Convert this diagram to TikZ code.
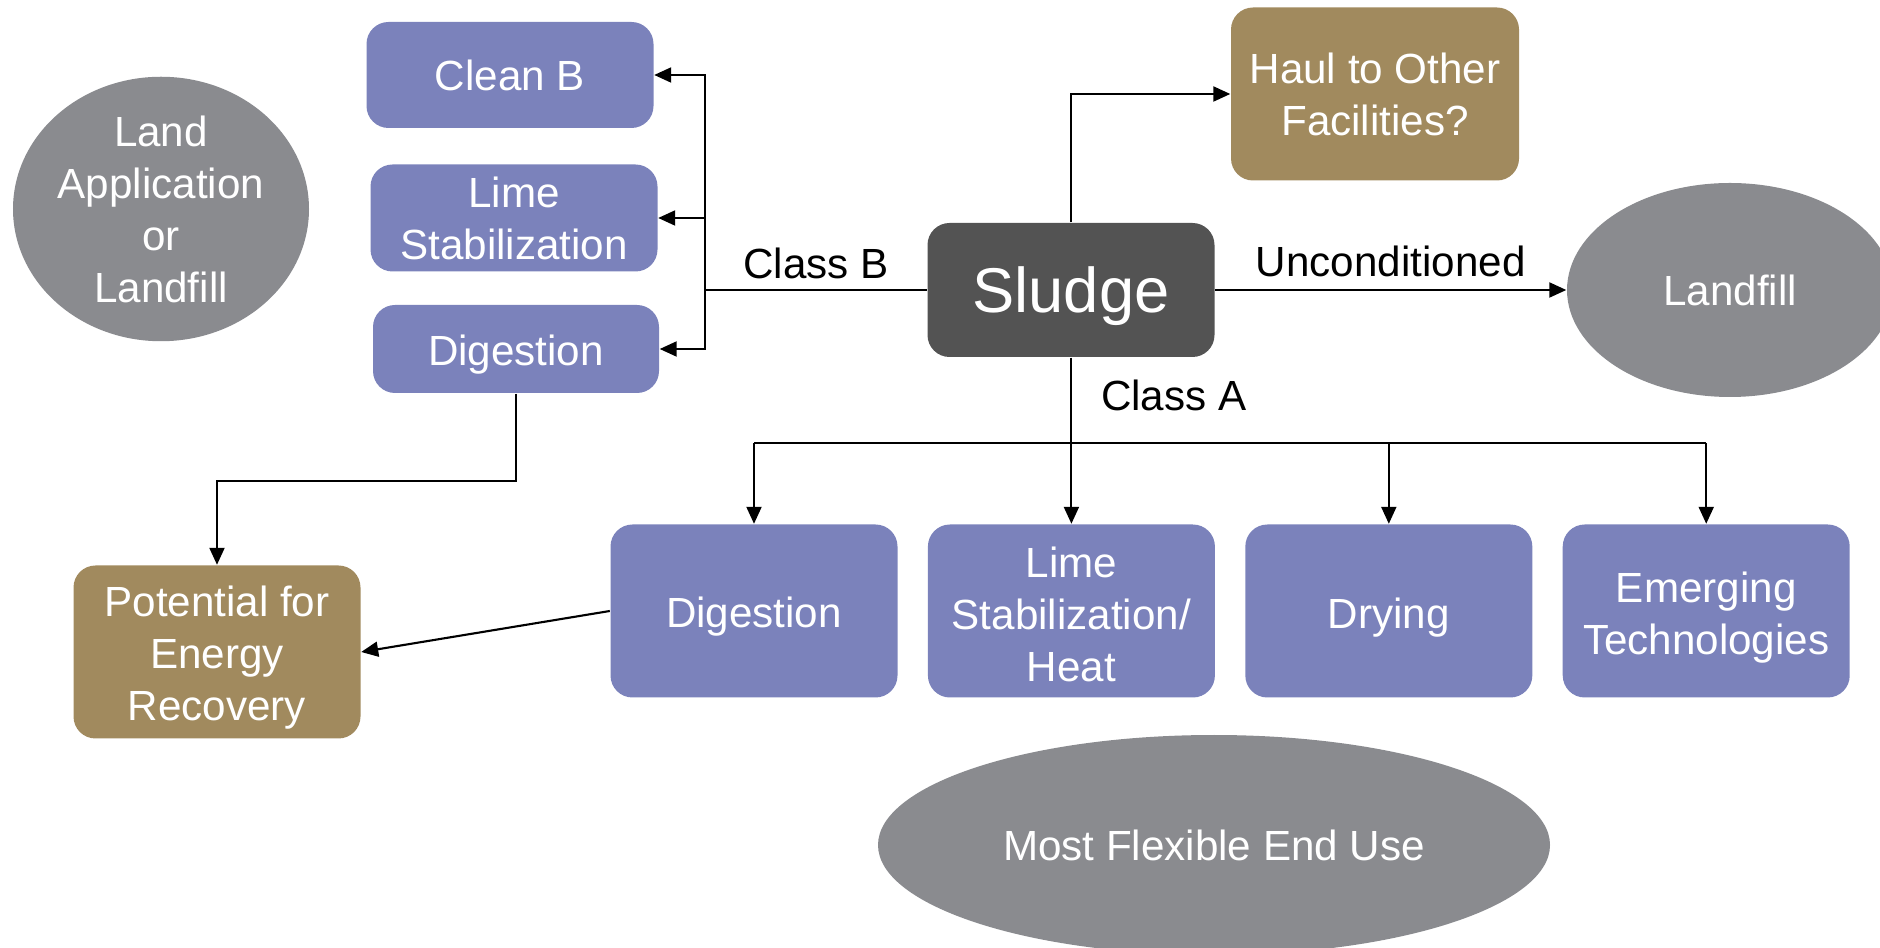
\documentclass[tikz,border=0pt]{standalone}
\usepackage{fontspec}
\setmainfont{Liberation Sans}
\usetikzlibrary{shapes.geometric, arrows.meta, positioning}
\definecolor{boxpurple}{HTML}{7B82BB}
\definecolor{boxtan}{HTML}{A18A5E}
\definecolor{endgray}{HTML}{8A8B8F}
\definecolor{sludgegray}{HTML}{535353}
\newcommand{\lowtext}[2]{\raisebox{-#1}[\height][\depth]{\begin{tabular}{@{}c@{}}#2\end{tabular}}}
\tikzstyle{process_box} = [rectangle, rounded corners=0.22cm, minimum width=2.87cm, minimum height=1.73cm, align=center, fill=boxpurple, text=white, inner sep=0, font=\fontsize{12}{14.8}\selectfont]
\tikzstyle{option_box} = [process_box, fill=boxtan]
\tikzstyle{end_use} = [ellipse, align=center, fill=endgray, text=white, inner sep=0, font=\fontsize{12}{14.8}\selectfont]
\tikzstyle{sludge_node} = [rectangle, rounded corners=0.22cm, minimum width=2.87cm, minimum height=1.34cm, fill=sludgegray, text=white, font=\fontsize{18}{21.6}\selectfont]
\tikzstyle{flow_arrow} = [line width=0.6pt, -{Triangle[length=1.7mm, width=1.5mm]}]
\tikzstyle{flow_line} = [line width=0.6pt]
\tikzstyle{flow_label} = [font=\fontsize{12}{14.4}\selectfont, inner sep=0]

\begin{document}
\begin{tikzpicture}[node distance=0.35cm and 0.29cm]
\clip (0,0) rectangle (18.8,-9.48);
\useasboundingbox (0,0) rectangle (18.8,-9.48);

\node (sludge) [sludge_node] at (10.71,-2.90) {\lowtext{0.7mm}{Sludge}};
\node (haul) [option_box, minimum width=2.88cm] at (13.75,-0.94) {Haul to Other\\Facilities?};
\node (landfill) [end_use, minimum width=3.26cm, minimum height=2.14cm] at (17.30,-2.90) {Landfill};
\node (landapp) [end_use, minimum width=2.96cm, minimum height=2.40cm] at (1.61,-2.09) {Land\\Application\\or\\Landfill};

% Class B Zweig
\node (cleanb) [process_box, minimum height=1.06cm] at (5.10,-0.75) {Clean B};
\node (limeb) [process_box, minimum height=1.07cm] at (5.14,-2.18) {Lime\\Stabilization};
\node (digb) [process_box, minimum width=2.86cm, minimum height=0.88cm] at (5.16,-3.49) {\lowtext{0.6mm}{Digestion}};
\node (potential) [option_box] at (2.17,-6.52) {\lowtext{0.6mm}{Potential for\\Energy\\Recovery}};

% Class A Zweig
\node (diga) [process_box] at (7.54,-6.11) {\lowtext{0.6mm}{Digestion}};
\node (limea) [process_box, right=of diga] {\lowtext{0.8mm}{Lime\\Stabilization/\\Heat}};
\node (drying) [process_box, right=of limea] {\lowtext{0.7mm}{Drying}};
\node (emerging) [process_box, right=of drying] {\lowtext{0.7mm}{Emerging\\Technologies}};
\node (flexible) [end_use, minimum width=6.72cm, minimum height=2.20cm] at (12.14,-8.45) {Most Flexible End Use};

\coordinate (bsplit) at (7.05,-2.90);
\coordinate (abus) at (10.71,-4.43);

\draw [flow_line] (sludge.west) -- node[flow_label, above=0.10cm] {Class B} (bsplit);
\draw [flow_arrow] (bsplit) |- (cleanb.east);
\draw [flow_arrow] (bsplit) |- (limeb.east);
\draw [flow_arrow] (bsplit) |- (digb.east);
\draw [flow_arrow] (digb.south) -- ++(0,-0.87) -| (potential.north);
\draw [flow_arrow] (diga.west) -- (potential.east);

\draw [flow_arrow] (sludge.east) -- node[flow_label, above=0.12cm] {Unconditioned} (landfill.west);
\draw [flow_arrow] (sludge.north) |- (haul.west);

\draw [flow_line] (sludge.south) -- node[flow_label, right=0.29cm, yshift=0.05cm] {Class A} (abus);
\draw [flow_line] (diga.north |- abus) -- (emerging.north |- abus);
\foreach \n in {diga, limea, drying, emerging}
  \draw [flow_arrow] (\n.north |- abus) -- (\n.north);
\end{tikzpicture}
\end{document}
